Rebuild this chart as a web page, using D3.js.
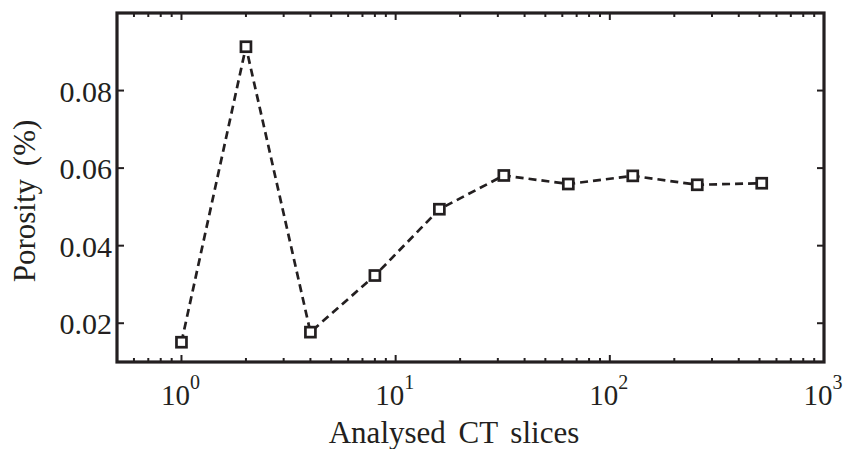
<!DOCTYPE html>
<html>
<head>
<meta charset="utf-8">
<script src="https://cdn.jsdelivr.net/npm/d3@7"></script>
<style>
  body { margin: 0; background: #fff; }
  svg text { font-family: "Liberation Serif", "Times New Roman", serif; fill: #231f20; }
</style>
</head>
<body>
<svg id="chart" width="843" height="449"></svg>
<script>
// data
const slices = [1, 2, 4, 8, 16, 32, 64, 128, 256, 512];
const porosity = [0.0151, 0.0913, 0.0177, 0.0323, 0.0494, 0.0581, 0.0559, 0.0580, 0.0557, 0.0561];
const yTicks = [0.02, 0.04, 0.06, 0.08];
const xMajor = [1, 10, 100, 1000];
const xLabel = "Analysed CT slices";
const yLabel = "Porosity (%)";

const ink = "#231f20";
const svg = d3.select("#chart");
const m = {left: 117, right: 824, top: 13, bottom: 362};

const x = d3.scaleLog().domain([0.5, 1000]).range([m.left, m.right]);
const y = d3.scaleLinear().domain([0.01, 0.1]).range([m.bottom, m.top]);

// minor ticks on log axis
let xMinor = [];
for (let p = -1; p <= 2; p++) {
    for (let k = 2; k <= 9; k++) {
        let v = k * Math.pow(10, p);
        if (v > 0.5 && v < 1000) xMinor.push(v);
    }
}

const g = svg.append("g");

// x ticks, bottom and top (mirrored)
g.selectAll(".xmin").data(xMinor).join("line")
    .attr("x1", d => x(d)).attr("x2", d => x(d))
    .attr("y1", m.bottom).attr("y2", m.bottom - 4)
    .attr("stroke", ink).attr("stroke-width", 2);
g.selectAll(".xmint").data(xMinor).join("line")
    .attr("x1", d => x(d)).attr("x2", d => x(d))
    .attr("y1", m.top).attr("y2", m.top + 4)
    .attr("stroke", ink).attr("stroke-width", 2);
g.selectAll(".xmaj").data(xMajor).join("line")
    .attr("x1", d => x(d)).attr("x2", d => x(d))
    .attr("y1", m.bottom).attr("y2", m.bottom - 7)
    .attr("stroke", ink).attr("stroke-width", 2);
g.selectAll(".xmajt").data(xMajor).join("line")
    .attr("x1", d => x(d)).attr("x2", d => x(d))
    .attr("y1", m.top).attr("y2", m.top + 7)
    .attr("stroke", ink).attr("stroke-width", 2);

// y ticks, left and right
g.selectAll(".yl").data(yTicks).join("line")
    .attr("x1", m.left).attr("x2", m.left + 7)
    .attr("y1", d => y(d)).attr("y2", d => y(d))
    .attr("stroke", ink).attr("stroke-width", 2);
g.selectAll(".yr").data(yTicks).join("line")
    .attr("x1", m.right).attr("x2", m.right - 7)
    .attr("y1", d => y(d)).attr("y2", d => y(d))
    .attr("stroke", ink).attr("stroke-width", 2);

// axes box
svg.append("rect")
    .attr("x", m.left).attr("y", m.top)
    .attr("width", m.right - m.left).attr("height", m.bottom - m.top)
    .attr("fill", "none").attr("stroke", ink).attr("stroke-width", 3.2);

// y tick labels
svg.selectAll(".ylab").data(yTicks).join("text")
    .attr("x", m.left - 5).attr("y", d => y(d) + 11)
    .attr("text-anchor", "end")
    .style("font-size", "30px")
    .text(d => d.toFixed(2));

// x tick labels 10^n
let xl = svg.selectAll(".xlab").data(xMajor).join("text")
    .attr("x", d => x(d) - 1).attr("y", 405)
    .attr("text-anchor", "middle")
    .style("font-size", "29px");
xl.append("tspan").text("10");
xl.append("tspan")
    .attr("dy", -16).style("font-size", "20px")
    .text(d => Math.round(Math.log10(d)));

// axis titles (matlab puts wide gaps between words)
svg.append("text")
    .attr("x", 454).attr("y", 443)
    .attr("text-anchor", "middle")
    .style("font-size", "31px")
    .style("word-spacing", "5px")
    .text(xLabel);
svg.append("text")
    .attr("transform", "translate(35,201) rotate(-90)")
    .attr("text-anchor", "middle")
    .style("font-size", "31px")
    .style("word-spacing", "5px")
    .text(yLabel);

// dashed series line
const line = d3.line().x(d => x(d[0])).y(d => y(d[1]));
const pts = slices.map((s, i) => [s, porosity[i]]);
svg.append("path")
    .datum(pts)
    .attr("d", line)
    .attr("fill", "none")
    .attr("stroke", ink)
    .attr("stroke-width", 2.7)
    .attr("stroke-dasharray", "8,5");

// square markers
svg.selectAll(".mk").data(pts).join("rect")
    .attr("x", d => x(d[0]) - 5).attr("y", d => y(d[1]) - 5)
    .attr("width", 10).attr("height", 10)
    .attr("fill", "#fff")
    .attr("stroke", ink).attr("stroke-width", 2.7);
</script>
</body>
</html>
